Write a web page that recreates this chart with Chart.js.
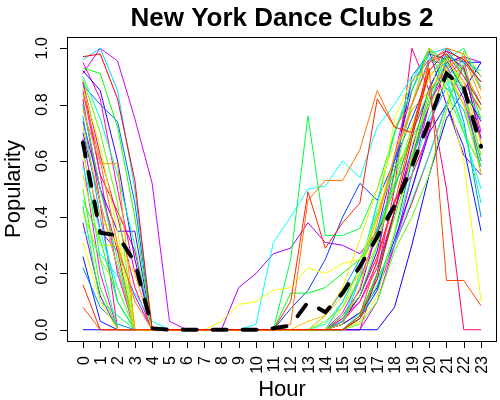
<!DOCTYPE html>
<html>
<head>
<meta charset="utf-8">
<script src="https://cdn.jsdelivr.net/npm/chart.js@4.4.1/dist/chart.umd.min.js"></script>
<style>
  html, body { margin: 0; padding: 0; background: #fff; }
  #wrap { width: 500px; height: 400px; }
</style>
</head>
<body>
<div id="wrap"><canvas id="clubs" width="500" height="400"></canvas></div>
<script>
const hours = [0, 1, 2, 3, 4, 5, 6, 7, 8, 9, 10, 11, 12, 13, 14, 15, 16, 17, 18, 19, 20, 21, 22, 23];
const yTicks = [0, 0.2, 0.4, 0.6, 0.8, 1.0];
const yTickLabels = ["0.0", "0.2", "0.4", "0.6", "0.8", "1.0"];

// one row per club, hours 0..23
const club01 = [0.97,0.98,0.82,0.53,0,0,0,0,0,0,0,0,0,0,0,0,0.04,0.18,0.42,0.68,0.92,0.99,0.96,0.88];
const club02 = [0.16,0,0,0,0,0,0,0,0,0,0,0,0.10,0.49,0.29,0.38,0.45,0.82,0.72,0.70,0.95,0.98,0.90,0.80];
const club03 = [0.08,0,0,0,0,0,0,0,0,0,0,0,0,0,0,0,0.05,0.25,0.45,0.70,0.93,0.175,0.175,0.085];
const club04 = [0.84,0.60,0.30,0.10,0,0,0,0,0,0,0,0,0.02,0.46,0.53,0.53,0.64,0.85,0.72,0.80,0.95,1.0,0.98,0.85];
const club05 = [0.78,0.59,0.59,0,0,0,0,0,0,0,0,0,0,0,0,0.02,0.15,0.38,0.62,0.78,0.85,0.93,0.97,0.82];
const club06 = [0.72,0.45,0.22,0,0,0,0,0,0,0,0,0,0,0.03,0.05,0.12,0.20,0.40,0.62,0.80,1.0,0.92,0.80,0.72];
const club07 = [0.62,0.40,0.30,0.20,0,0,0,0,0,0,0,0,0,0,0.05,0.15,0.32,0.50,0.66,0.72,0.90,0.96,0.88,0.66];
const club08 = [0.31,0.10,0,0,0,0,0,0,0.03,0.09,0.10,0.14,0.15,0.22,0.20,0.235,0.25,0.40,0.75,0.89,0.92,0.85,0.60,0.10];
const club09 = [0.86,0.65,0.35,0,0,0,0,0,0,0,0,0,0,0,0,0,0.03,0.12,0.35,0.62,0.85,0.93,0.80,0.55];
const club10 = [0.55,0.30,0.30,0,0,0,0,0,0,0,0,0,0,0,0,0.08,0.22,0.40,0.58,0.66,0.80,0.88,0.94,0.78];
const club11 = [0.42,0.25,0.15,0,0,0,0,0,0,0,0,0,0,0,0.03,0.08,0.18,0.30,0.52,0.72,0.90,0.97,0.86,0.62];
const club12 = [0.89,0.70,0.45,0,0,0,0,0,0,0,0,0,0,0,0,0,0.02,0.10,0.28,0.40,0.55,0.78,0.99,0.90];
const club13 = [0.50,0.15,0,0,0,0,0,0,0,0,0,0,0,0,0,0.05,0.12,0.30,0.55,0.80,1.0,0.85,0.70,0.58];
const club14 = [0.93,0.91,0.72,0.40,0,0,0,0,0,0,0,0,0,0,0,0,0.05,0.20,0.40,0.60,0.82,0.98,0.92,0.75];
const club15 = [0.46,0.32,0.10,0,0,0,0,0,0,0,0,0,0.13,0.13,0.15,0.20,0.25,0.35,0.50,0.70,0.85,0.90,0.80,0.60];
const club16 = [0.44,0.10,0.05,0,0,0,0,0,0,0,0,0,0.25,0.76,0.335,0.335,0.36,0.50,0.70,0.85,1.0,0.95,0.85,0.75];
const club17 = [0.80,0.50,0.25,0,0,0,0,0,0,0,0,0,0,0,0,0.03,0.20,0.42,0.56,0.68,0.80,0.96,1.0,0.86];
const club18 = [0.65,0.25,0,0,0,0,0,0,0,0,0,0,0,0,0,0,0.04,0.16,0.34,0.55,0.76,0.88,0.72,0.45];
const club19 = [0.90,0.75,0.55,0.30,0,0,0,0,0,0,0,0,0,0,0.02,0.10,0.22,0.45,0.70,0.88,1.0,0.93,0.84,0.62];
const club20 = [0.58,0.35,0.15,0,0,0,0,0,0,0,0,0,0,0,0,0,0.06,0.18,0.30,0.46,0.62,0.80,0.95,0.92];
const club21 = [0.35,0.27,0.19,0.13,0.03,0,0,0,0,0,0.02,0.31,0.40,0.50,0.51,0.60,0.54,0.72,0.80,0.90,0.97,0.90,0.70,0.50];
const club22 = [0.96,1.0,0.85,0.50,0,0,0,0,0,0,0,0,0,0,0,0.02,0.18,0.45,0.70,0.85,0.98,1.0,0.90,0.80];
const club23 = [0.76,0.40,0.10,0,0,0,0,0,0,0,0,0,0,0,0,0.10,0.22,0.36,0.52,0.62,0.74,0.86,0.78,0.58];
const club24 = [0.22,0.08,0.02,0,0,0,0,0,0,0,0,0,0,0,0.05,0.14,0.25,0.40,0.60,0.80,0.96,0.94,0.74,0.40];
const club25 = [0.87,0.80,0.74,0.45,0,0,0,0,0,0,0,0,0,0,0,0,0.04,0.14,0.34,0.60,0.85,1.0,0.95,0.88];
const club26 = [0.70,0.45,0.22,0,0,0,0,0,0,0,0,0,0.075,0.14,0.25,0.40,0.52,0.46,0.60,0.75,0.90,0.97,0.95,0.95];
const club27 = [0.26,0.03,0,0,0,0,0,0,0,0,0,0,0,0,0,0.02,0.06,0.15,0.32,0.50,0.70,0.80,0.65,0.35];
const club28 = [0,0,0,0,0,0,0,0,0,0,0,0,0,0,0,0,0,0,0.08,0.30,0.55,0.75,0.85,0.95];
const club29 = [0.92,0.85,0.60,0.25,0,0,0,0,0,0,0,0,0,0,0,0.03,0.12,0.28,0.56,0.90,0.98,0.96,0.85,0.74];
const club30 = [0.74,0.50,0.35,0.35,0,0,0,0,0,0,0,0,0,0,0,0,0.05,0.20,0.42,0.64,0.86,0.98,0.93,0.68];
const club31 = [0.38,0.12,0,0,0,0,0,0,0,0,0,0,0,0,0,0.05,0.14,0.35,0.60,0.85,0.99,0.80,0.62,0.55];
const club32 = [0.68,0.35,0.28,0.12,0,0,0,0,0,0.15,0.20,0.27,0.29,0.38,0.31,0.30,0.27,0.35,0.45,0.60,0.80,0.95,0.97,0.90];
const club33 = [0.91,1.0,0.955,0.75,0.52,0.03,0,0,0,0,0,0,0,0,0,0,0,0.10,0.30,0.55,0.80,0.95,0.97,0.95];
const club34 = [0.85,0.55,0.20,0,0,0,0,0,0,0,0,0,0,0,0,0.06,0.18,0.34,0.50,0.70,0.84,0.94,0.82,0.60];
const club35 = [0.60,0.20,0,0,0,0,0,0,0,0,0,0,0,0,0,0,0.04,0.14,0.30,0.50,0.72,0.90,0.96,0.70];
const club36 = [0.95,0.82,0.50,0.20,0,0,0,0,0,0,0,0,0,0,0,0.04,0.10,0.24,0.62,0.88,0.96,0.99,0.92,0.80];
const club37 = [0.82,0.45,0,0,0,0,0,0,0,0,0,0,0,0,0,0.03,0.10,0.22,0.42,0.62,0.80,0.92,0.86,0.55];
const club38 = [0.88,0.62,0.40,0.15,0,0,0,0,0,0,0,0,0,0,0,0,0,0.20,0.50,1.0,0.85,0.50,0,0];
const club39 = [0.88,0.55,0.42,0.28,0,0,0,0,0,0,0,0,0,0,0,0.04,0.12,0.26,0.46,0.55,0.70,0.97,0.88,0.78];
const club40 = [0.80,0.50,0.28,0,0,0,0,0,0,0,0,0,0,0,0,0.02,0.06,0.18,0.30,0.45,0.62,0.80,0.94,0.66];

// the thick dashed average line
const average = [0.665,0.345,0.335,0.24,0.005,0,0,0,0,0,0,0.005,0.015,0.098,0.062,0.13,0.225,0.33,0.44,0.58,0.74,0.91,0.86,0.65];

const clubs = [club01, club02, club03, club04, club05, club06, club07, club08, club09, club10,
  club11, club12, club13, club14, club15, club16, club17, club18, club19, club20,
  club21, club22, club23, club24, club25, club26, club27, club28, club29, club30,
  club31, club32, club33, club34, club35, club36, club37, club38, club39, club40];

const toPoints = vals => hours.map((h, i) => ({ x: h, y: vals[i] }));

const clubSets = clubs.map((vals, i) => ({
  label: "club " + (i + 1),
  data: toPoints(vals),
  borderColor: `hsl(${(i * 360) / clubs.length}, 100%, 50%)`,
  borderWidth: 1,
  pointRadius: 0,
  tension: 0,
  order: 1,
}));

const avgSet = {
  label: "average",
  data: toPoints(average),
  borderColor: "#000",
  borderWidth: 4,
  borderDash: [14, 16],
  borderCapStyle: "round",
  pointRadius: 0,
  tension: 0,
  order: 0,
};

const FONT = "'Liberation Sans', Arial, Helvetica, sans-serif";

// R style box, ticks and rotated labels
const rAxes = {
  id: "rAxes",
  afterDraw(chart) {
    const { ctx, chartArea: a, scales: { x, y } } = chart;
    ctx.save();
    ctx.strokeStyle = "#000";
    ctx.fillStyle = "#000";
    ctx.lineWidth = 1;
    ctx.strokeRect(a.left + 0.5, a.top + 0.5, a.right - a.left - 1, a.bottom - a.top);

    ctx.beginPath();
    hours.forEach(h => {
      const px = Math.round(x.getPixelForValue(h)) + 0.5;
      ctx.moveTo(px, a.bottom);
      ctx.lineTo(px, a.bottom + 7);
    });
    yTicks.forEach(v => {
      const py = Math.round(y.getPixelForValue(v)) + 0.5;
      ctx.moveTo(a.left, py);
      ctx.lineTo(a.left - 7, py);
    });
    ctx.stroke();

    ctx.font = "16px " + FONT;
    ctx.textBaseline = "alphabetic";
    hours.forEach(h => {
      const px = x.getPixelForValue(h);
      ctx.save();
      ctx.translate(px, a.bottom + 15);
      ctx.rotate(-Math.PI / 2);
      ctx.textAlign = "right";
      ctx.fillText(String(h), 0, 5.7);
      ctx.restore();
    });
    yTicks.forEach((v, i) => {
      const py = y.getPixelForValue(v);
      ctx.save();
      ctx.translate(46.5, py);
      ctx.rotate(-Math.PI / 2);
      ctx.textAlign = "center";
      ctx.fillText(yTickLabels[i], 0, 0);
      ctx.restore();
    });

    ctx.font = "22px " + FONT;
    ctx.textAlign = "center";
    ctx.fillText("Hour", (a.left + a.right) / 2, 396);
    ctx.save();
    ctx.translate(20, (a.top + a.bottom) / 2);
    ctx.rotate(-Math.PI / 2);
    ctx.fillText("Popularity", 0, 0);
    ctx.restore();

    ctx.font = "bold 26px " + FONT;
    ctx.fillText("New York Dance Clubs 2", (a.left + a.right) / 2, 26);
    ctx.restore();
  }
};

new Chart(document.getElementById("clubs"), {
  type: "line",
  data: { datasets: [...clubSets, avgSet] },
  options: {
    responsive: false,
    animation: false,
    layout: { padding: { left: 67, right: 3, top: 37, bottom: 59 } },
    plugins: { legend: { display: false }, title: { display: false }, tooltip: { enabled: false } },
    scales: {
      x: { type: "linear", min: -0.92, max: 23.92, display: false },
      y: { type: "linear", min: -0.04, max: 1.04, display: false },
    },
  },
  plugins: [rAxes],
});
</script>
</body>
</html>
